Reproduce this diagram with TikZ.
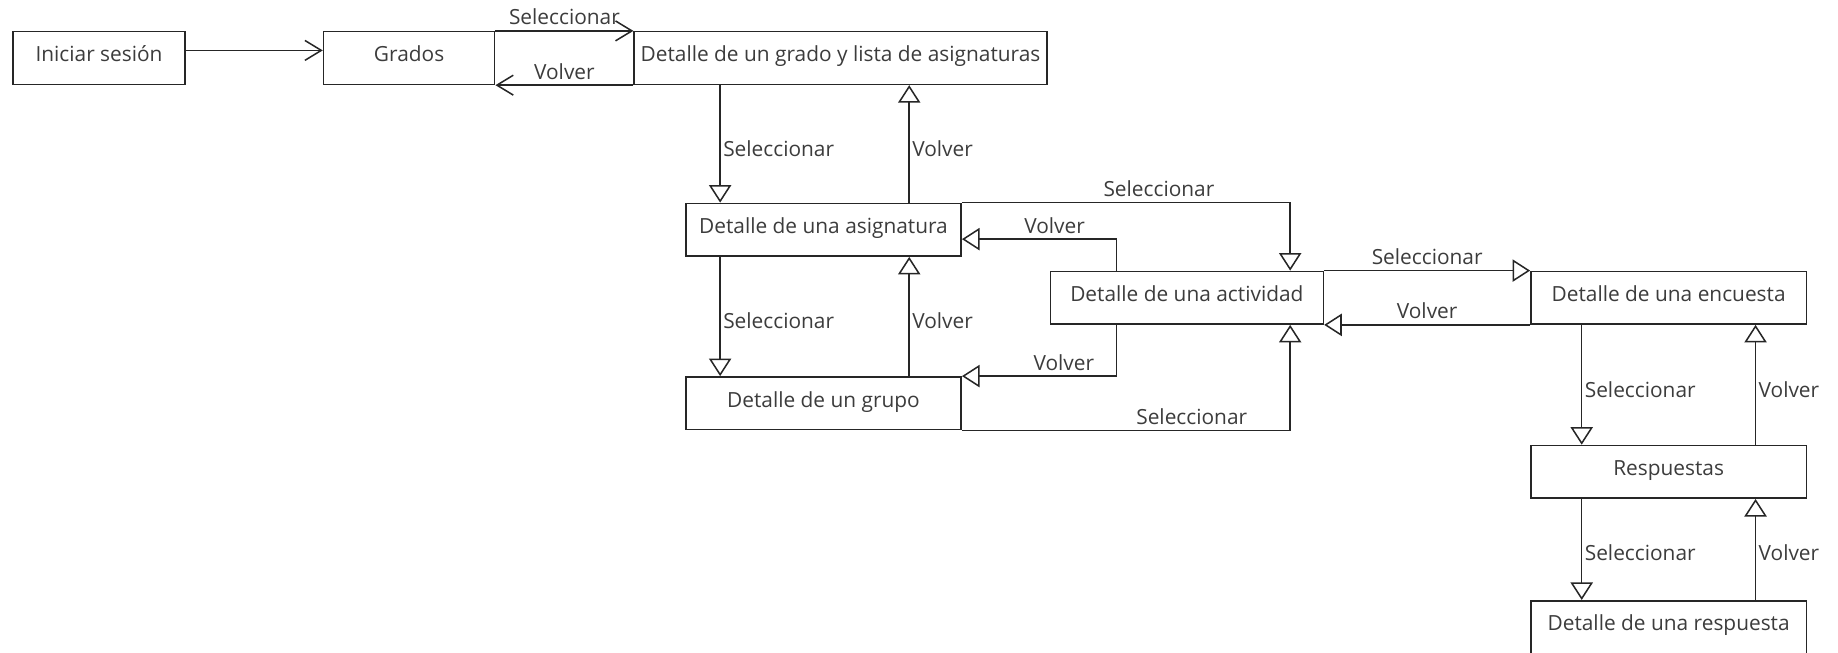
\documentclass[tikz,border=0pt]{standalone}
\usepackage{fontspec}
\setmainfont{Open Sans}
\usetikzlibrary{arrows.meta}
\definecolor{linegray}{HTML}{262626}
\definecolor{textgray}{HTML}{3C3C3C}
\tikzset{
  pantalla/.style={draw=linegray, line width=1.3pt, minimum height=45pt, inner sep=0pt, text height=13.5pt, text depth=7pt, text=textgray, font=\fontsize{17.8}{21}\selectfont},
  flecha/.style={draw=linegray, line width=1.3pt, -{Triangle[open,length=15pt,width=19pt]}},
  flechav/.style={draw=linegray, line width=1.3pt, -{Straight Barb[length=14pt,width=17pt]}},
  etiq/.style={text=textgray, font=\fontsize{17.8}{21}\selectfont, inner sep=2pt, text depth=2.5pt}
}
\begin{document}
\begin{tikzpicture}[x=1pt,y=-1pt]
\useasboundingbox (0,0) rectangle (1568,557);
\node[pantalla, minimum width=147pt] (inicio) at (84.5,49.5) {Iniciar sesión};
\node[pantalla, minimum width=146pt] (grados) at (349,49.5) {Grados};
\node[pantalla, minimum width=352pt] (grado) at (717,49.5) {Detalle de un grado y lista de asignaturas};
\node[pantalla, minimum width=235pt] (asignatura) at (702.5,196) {Detalle de una asignatura};
\node[pantalla, minimum width=235pt] (grupo) at (702.5,344) {Detalle de un grupo};
\node[pantalla, minimum width=233pt] (actividad) at (1012.5,254) {Detalle de una actividad};
\node[pantalla, minimum width=235pt] (encuesta) at (1423.5,254) {Detalle de una encuesta};
\node[pantalla, minimum width=235pt] (respuestas) at (1423.5,402.5) {Respuestas};
\node[pantalla, minimum width=235pt] (respuesta) at (1423.5,535) {Detalle de una respuesta};

\draw[flechav] ([yshift=6.5pt]inicio.east) -- ([yshift=6.5pt]grados.west);
\draw[flechav] (grados.north east) -- node[etiq,above]{Seleccionar} (grado.north west);
\draw[flechav] (grado.south west) -- node[etiq,above]{Volver} (grados.south east);

\draw[flecha] ([xshift=30pt]asignatura.north west |- grado.south) -- node[etiq,right,pos=0.55]{Seleccionar} ([xshift=30pt]asignatura.north west);
\draw[flecha] ([xshift=-45pt]asignatura.north east) -- node[etiq,right,pos=0.45]{Volver} ([xshift=-45pt]asignatura.north east |- grado.south);
\draw[flecha] ([xshift=30pt]grupo.north west |- asignatura.south) -- node[etiq,right,pos=0.55]{Seleccionar} ([xshift=30pt]grupo.north west);
\draw[flecha] ([xshift=-45pt]grupo.north east) -- node[etiq,right,pos=0.45]{Volver} ([xshift=-45pt]grupo.north east |- asignatura.south);

\draw[flecha] (asignatura.north east) -| node[etiq,above,pos=0.3]{Seleccionar} ([xshift=-29pt]actividad.north east);
\draw[flecha] ([xshift=57pt]actividad.north west) |- node[etiq,above,pos=0.7]{Volver} ([yshift=-8pt]asignatura.east);
\draw[flecha] ([xshift=57pt]actividad.south west) |- node[etiq,above,pos=0.67]{Volver} (grupo.north east);
\draw[flecha] (grupo.south east) -| node[etiq,above,pos=0.35]{Seleccionar} ([xshift=-29pt]actividad.south east);

\draw[flecha] (actividad.north east) -- node[etiq,above]{Seleccionar} (encuesta.north west);
\draw[flecha] (encuesta.south west) -- node[etiq,above]{Volver} (actividad.south east);

\draw[flecha] ([xshift=44pt]respuestas.north west |- encuesta.south) -- node[etiq,right,pos=0.55]{Seleccionar} ([xshift=44pt]respuestas.north west);
\draw[flecha] ([xshift=-44pt]respuestas.north east) -- node[etiq,right,pos=0.45]{Volver} ([xshift=-44pt]respuestas.north east |- encuesta.south);
\draw[flecha] ([xshift=44pt]respuesta.north west |- respuestas.south) -- node[etiq,right,pos=0.55]{Seleccionar} ([xshift=44pt]respuesta.north west);
\draw[flecha] ([xshift=-44pt]respuesta.north east) -- node[etiq,right,pos=0.45]{Volver} ([xshift=-44pt]respuesta.north east |- respuestas.south);
\end{tikzpicture}
\end{document}
